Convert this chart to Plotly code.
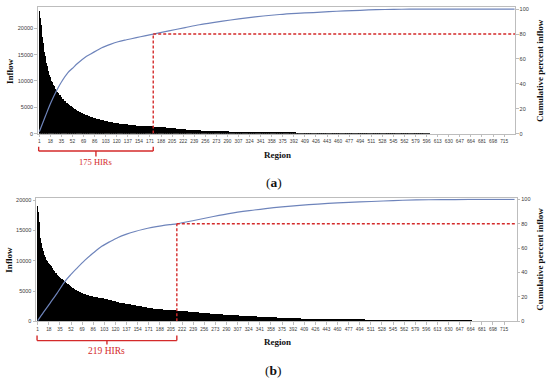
import plotly.graph_objects as go

# ---------------- data ----------------
tick_labels = list(range(1, 716, 17))
inflow_ticks = [0, 5000, 10000, 15000, 20000]
pct_ticks = [0, 20, 40, 60, 80, 100]

# (a) inflow per region, sorted, regions 1..620
inflow_a = [
23400, 22000, 20600, 19400, 18300, 17300, 16400, 15600, 14800, 14100,
13500, 12900, 12400, 11900, 11500, 11100, 10700, 10400, 10000, 9750,
9480, 9230, 9000, 8780, 8560, 8350, 8150, 7960, 7780, 7600,
7430, 7270, 7110, 6960, 6810, 6670, 6530, 6400, 6270, 6150,
6030, 5910, 5800, 5690, 5580, 5480, 5380, 5280, 5190, 5100,
5010, 4920, 4840, 4760, 4680, 4600, 4530, 4460, 4390, 4320,
4250, 4180, 4110, 4040, 3970, 3900, 3840, 3780, 3720, 3660,
3610, 3560, 3510, 3460, 3410, 3360, 3310, 3260, 3220, 3180,
3140, 3100, 3060, 3020, 2980, 2940, 2900, 2860, 2820, 2780,
2740, 2700, 2670, 2640, 2610, 2580, 2550, 2520, 2490, 2460,
2430, 2400, 2370, 2340, 2310, 2280, 2250, 2220, 2200, 2180,
2160, 2140, 2120, 2100, 2080, 2060, 2040, 2020, 2000, 1980,
1960, 1940, 1920, 1900, 1880, 1860, 1840, 1820, 1800, 1790,
1780, 1770, 1760, 1750, 1740, 1730, 1720, 1700, 1680, 1660,
1640, 1620, 1600, 1590, 1580, 1570, 1560, 1550, 1540, 1530,
1520, 1510, 1500, 1490, 1480, 1475, 1470, 1465, 1460, 1455,
1450, 1445, 1440, 1430, 1420, 1410, 1400, 1395, 1390, 1385,
1380, 1375, 1370, 1365, 1360, 1350, 1340, 1330, 1320, 1310,
1300, 1290, 1280, 1270, 1260, 1250, 1240, 1230, 1220, 1210,
1200, 1190, 1180, 1170, 1160, 1150, 1140, 1130, 1120, 1110,
1100, 1090, 1075, 1060, 1045, 1030, 1015, 1000, 985, 970,
955, 940, 925, 910, 895, 880, 870, 860, 850, 840,
830, 820, 810, 800, 790, 780, 770, 760, 750, 740,
730, 722, 714, 706, 698, 690, 682, 674, 666, 658,
650, 643, 636, 629, 622, 615, 608, 601, 594, 587,
580, 574, 568, 562, 556, 550, 544, 538, 532, 526,
520, 515, 510, 505, 500, 496, 492, 488, 484, 480,
476, 472, 468, 464, 460, 457, 454, 450, 447, 444,
440, 437, 434, 430, 427, 424, 420, 417, 414, 410,
407, 404, 400, 397, 394, 390, 387, 384, 380, 377,
374, 370, 367, 364, 360, 357, 354, 350, 347, 344,
340, 337, 334, 330, 327, 324, 321, 318, 315, 312,
309, 306, 303, 300, 297, 294, 291, 288, 285, 282,
279, 276, 273, 270, 267, 264, 261, 258, 255, 252,
249, 246, 243, 240, 237, 234, 231, 228, 225, 222,
219, 216, 213, 210, 207, 204, 202, 200, 198, 196,
194, 192, 190, 188, 186, 184, 182, 180, 178, 176,
174, 172, 170, 168, 166, 164, 161, 158, 155, 152,
150, 148, 146, 144, 142, 140, 138, 136, 134, 132,
130, 128, 126, 124, 122, 120, 118, 116, 114, 112,
110, 108, 106, 104, 102, 100, 99, 98, 97, 96,
95, 94, 93, 92, 91, 90, 89, 88, 87, 86,
85, 84, 83, 82, 81, 80, 80, 79, 79, 78,
78, 77, 77, 76, 76, 75, 75, 74, 74, 73,
73, 72, 72, 71, 71, 70, 70, 69, 69, 68,
68, 67, 67, 66, 66, 65, 65, 64, 64, 63,
63, 62, 62, 61, 61, 60, 60, 59, 59, 58,
58, 57, 57, 56, 56, 55, 55, 54, 54, 53,
53, 52, 52, 51, 51, 50, 50, 50, 49, 49,
49, 48, 48, 48, 47, 47, 47, 46, 46, 46,
45, 45, 45, 44, 44, 44, 43, 43, 43, 42,
42, 42, 41, 41, 41, 40, 40, 40, 39, 39,
39, 38, 38, 38, 37, 37, 37, 36, 36, 36,
35, 35, 35, 34, 34, 34, 33, 33, 33, 32,
32, 32, 31, 31, 31, 30, 30, 30, 29, 29,
29, 28, 28, 28, 27, 27, 27, 26, 26, 26,
25, 25, 25, 24, 24, 24, 23, 23, 23, 22,
22, 22, 21, 21, 21, 20, 20, 20, 19, 19,
19, 18, 18, 18, 17, 17, 17, 16, 16, 16,
15, 15, 15, 14, 14, 14, 13, 13, 13, 12,
]

# (b) inflow per region, sorted, regions 1..664
inflow_b = [
19000, 17900, 16300, 14600, 13600, 12800, 12400, 12000, 11600, 11200,
10900, 10600, 10350, 10100, 9900, 9750, 9600, 9450, 9300, 9150,
9000, 8850, 8700, 8550, 8400, 8250, 8100, 7960, 7830, 7700,
7580, 7460, 7350, 7250, 7150, 7060, 6970, 6880, 6790, 6700,
6600, 6500, 6400, 6300, 6200, 6110, 6020, 5940, 5860, 5780,
5700, 5620, 5540, 5460, 5380, 5300, 5230, 5160, 5100, 5040,
4980, 4920, 4860, 4800, 4750, 4700, 4650, 4600, 4560, 4520,
4480, 4440, 4400, 4360, 4320, 4290, 4260, 4230, 4200, 4170,
4140, 4110, 4080, 4050, 4020, 4000, 3980, 3960, 3940, 3920,
3900, 3880, 3860, 3845, 3830, 3815, 3800, 3785, 3770, 3750,
3730, 3700, 3675, 3650, 3625, 3600, 3575, 3550, 3525, 3500,
3475, 3450, 3420, 3390, 3360, 3330, 3300, 3270, 3240, 3210,
3180, 3150, 3120, 3090, 3060, 3030, 3000, 2980, 2960, 2940,
2920, 2900, 2880, 2860, 2845, 2830, 2815, 2800, 2780, 2760,
2740, 2720, 2700, 2680, 2660, 2640, 2620, 2600, 2580, 2560,
2540, 2520, 2500, 2480, 2460, 2440, 2420, 2400, 2380, 2360,
2340, 2320, 2300, 2280, 2260, 2240, 2220, 2200, 2180, 2160,
2145, 2130, 2115, 2100, 2085, 2070, 2055, 2040, 2025, 2010,
2000, 1990, 1980, 1970, 1960, 1950, 1940, 1930, 1920, 1910,
1900, 1890, 1880, 1870, 1860, 1850, 1840, 1830, 1820, 1810,
1800, 1795, 1790, 1785, 1780, 1775, 1770, 1765, 1760, 1755,
1745, 1735, 1725, 1715, 1705, 1695, 1685, 1675, 1665, 1655,
1645, 1635, 1625, 1615, 1605, 1595, 1585, 1575, 1565, 1555,
1545, 1535, 1525, 1515, 1505, 1495, 1485, 1475, 1470, 1465,
1455, 1445, 1435, 1425, 1415, 1405, 1395, 1385, 1375, 1365,
1355, 1345, 1335, 1325, 1315, 1305, 1295, 1285, 1275, 1265,
1255, 1245, 1235, 1225, 1215, 1205, 1195, 1185, 1175, 1165,
1155, 1145, 1135, 1125, 1118, 1111, 1104, 1097, 1090, 1083,
1076, 1069, 1062, 1055, 1048, 1041, 1034, 1027, 1020, 1013,
1006, 999, 992, 985, 978, 971, 964, 957, 950, 943,
936, 930, 924, 918, 912, 906, 900, 894, 888, 882,
876, 870, 864, 858, 852, 846, 840, 834, 828, 822,
816, 810, 804, 798, 792, 786, 780, 774, 768, 762,
756, 750, 744, 738, 732, 726, 720, 714, 708, 702,
696, 690, 684, 678, 672, 666, 660, 654, 648, 642,
636, 631, 626, 621, 616, 611, 606, 601, 596, 591,
586, 581, 576, 571, 566, 561, 556, 551, 546, 541,
536, 531, 526, 521, 516, 511, 506, 501, 496, 491,
486, 482, 478, 474, 470, 466, 462, 458, 454, 450,
446, 442, 438, 434, 430, 426, 422, 418, 414, 410,
406, 402, 398, 394, 390, 386, 382, 378, 374, 370,
366, 363, 360, 357, 354, 351, 348, 345, 342, 339,
336, 333, 330, 327, 324, 321, 318, 315, 312, 309,
306, 303, 300, 297, 294, 291, 288, 285, 282, 279,
276, 273, 270, 267, 264, 261, 258, 255, 252, 250,
248, 246, 244, 242, 240, 238, 236, 234, 232, 230,
228, 226, 224, 222, 220, 218, 216, 214, 212, 210,
208, 206, 204, 202, 200, 198, 196, 194, 192, 190,
188, 186, 184, 182, 180, 178, 176, 174, 172, 170,
168, 166, 164, 162, 160, 158, 156, 154, 152, 150,
148, 146, 144, 142, 140, 138, 136, 134, 132, 130,
128, 127, 126, 125, 124, 123, 122, 121, 120, 119,
118, 117, 116, 115, 114, 113, 112, 111, 110, 109,
108, 107, 106, 105, 104, 103, 102, 101, 100, 99,
98, 97, 96, 95, 94, 93, 92, 91, 90, 89,
88, 87, 86, 85, 84, 83, 82, 81, 80, 79,
78, 77, 76, 75, 74, 73, 72, 71, 70, 69,
68, 67, 66, 65, 64, 63, 62, 61, 60, 59,
58, 57, 56, 55, 54, 53, 52, 51, 50, 49,
48, 47, 46, 45, 44, 43, 42, 41, 40, 39,
38, 37, 36, 35, 34, 34, 33, 33, 32, 32,
31, 31, 30, 30, 29, 29, 28, 28, 27, 27,
26, 26, 25, 25, 24, 24, 23, 23, 22, 22,
21, 21, 20, 20, 19, 19, 18, 18, 17, 17,
16, 16, 15, 15, 14, 14, 13, 13, 12, 12,
11, 11, 10, 10, 9, 9, 8, 8, 7, 7,
6, 6, 5, 5,
]

# cumulative percent inflow
cum_regions_a = [1, 10, 18, 28, 35, 45, 52, 60, 71, 80, 90, 97, 110, 122, 135, 150, 163, 176,
                 200, 225, 247, 270, 295, 320, 345, 370, 396, 422, 446, 470, 494, 519, 545,
                 570, 600, 650, 700, 731]
cum_pct_a = [1.5, 13.5, 24, 35.0, 41.5, 49, 52.5, 56.5, 61.2, 64, 67, 69, 71.7, 73.8, 75.4,
             77.1, 78.6, 80, 82.6, 85.2, 87.5, 89.4, 91.3, 93, 94.5, 95.7, 96.6, 97.3, 98,
             98.6, 99.1, 99.6, 99.85, 100, 100, 100, 100, 100]

cum_regions_b = [1, 10, 20, 30, 43, 52, 60, 73, 86, 99, 112, 124, 137, 150, 163, 176, 190,
                 203, 214, 240, 270, 296, 325, 350, 375, 402, 430, 460, 494, 530, 560, 600,
                 640, 680, 731]
cum_pct_b = [0.5, 7.5, 15, 22.5, 33, 38.5, 43, 50, 56, 61.5, 65.5, 68.8, 71.5, 73.7, 75.5,
             77, 78.3, 79.3, 80, 82.7, 86, 88.6, 90.8, 92.5, 93.9, 95.1, 96.2, 97.1, 97.9,
             98.7, 99.3, 99.7, 99.9, 100, 100]

cutoff_pct = 80
cutoff_a = 176      # drawn position of dashed cut line
cutoff_b = 214
hir_label_a = "175 HIRs"
hir_label_b = "219 HIRs"

# ---------------- styling ----------------
RED = "#d42a2a"
BLUE = "#6e84bb"
AXC = "#bdbdbd"
TICKC = "#3a3a3a"
SERIF = "Liberation Serif"
SANS = "Liberation Sans"

W, H = 550, 387

def px(xp):
    return xp / W

def py(yp):
    return 1 - yp / H

dom_a_x = [px(37.7), px(515)]
dom_a_y = [py(133.3), py(5)]
dom_b_x = [px(36), px(516.7)]
dom_b_y = [py(323.5), py(199)]

fig = go.Figure()

regions_a = list(range(1, len(inflow_a) + 1))
regions_b = list(range(1, len(inflow_b) + 1))

fig.add_trace(go.Bar(x=regions_a, y=inflow_a, xaxis="x", yaxis="y",
                     marker=dict(color="#000000", line=dict(width=0)), width=0.8,
                     showlegend=False, hoverinfo="skip"))
fig.add_trace(go.Scatter(x=cum_regions_a, y=cum_pct_a, xaxis="x", yaxis="y2", mode="lines",
                         line=dict(color=BLUE, width=1.2, shape="spline", smoothing=0.8),
                         showlegend=False, hoverinfo="skip"))
fig.add_trace(go.Bar(x=regions_b, y=inflow_b, xaxis="x2", yaxis="y3",
                     marker=dict(color="#000000", line=dict(width=0)), width=0.8,
                     showlegend=False, hoverinfo="skip"))
fig.add_trace(go.Scatter(x=cum_regions_b, y=cum_pct_b, xaxis="x2", yaxis="y4", mode="lines",
                         line=dict(color=BLUE, width=1.2, shape="spline", smoothing=0.8),
                         showlegend=False, hoverinfo="skip"))

xcommon = dict(tickmode="array", tickvals=tick_labels, ticktext=[str(t) for t in tick_labels],
               showline=True, linecolor=AXC, linewidth=1, mirror=True, ticks="outside",
               ticklen=2.5, tickcolor=AXC, tickwidth=0.8, showgrid=False, zeroline=False,
               tickfont=dict(family=SANS, size=4.8, color=TICKC), tickangle=0)
yleft = dict(showline=True, linecolor=AXC, linewidth=1, ticks="outside", ticklen=2.5,
             tickcolor=AXC, tickwidth=0.8, showgrid=False, zeroline=False,
             tickfont=dict(family=SANS, size=5.5, color=TICKC), tickmode="array",
             tickvals=inflow_ticks, ticktext=[str(v) for v in inflow_ticks])
yright = dict(showline=True, linecolor=AXC, linewidth=1, ticks="outside", ticklen=2.5,
              tickcolor=AXC, tickwidth=0.8, showgrid=False, zeroline=False, side="right",
              tickfont=dict(family=SANS, size=5.5, color=TICKC), tickmode="array",
              tickvals=pct_ticks, ticktext=[str(v) for v in pct_ticks])

fig.update_layout(
    width=W, height=H, margin=dict(l=0, r=0, t=0, b=0),
    paper_bgcolor="white", plot_bgcolor="white", bargap=0,
    xaxis=dict(domain=dom_a_x, range=[-1.46, 731.7], anchor="y", **xcommon),
    yaxis=dict(domain=dom_a_y, range=[0, 24070], anchor="x", **yleft),
    yaxis2=dict(domain=dom_a_y, range=[0, 101.8], anchor="x", overlaying="y", **yright),
    xaxis2=dict(domain=dom_b_x, range=[-1.6, 734.3], anchor="y3", **xcommon),
    yaxis3=dict(domain=dom_b_y, range=[0, 20277], anchor="x2", **yleft),
    yaxis4=dict(domain=dom_b_y, range=[0, 100.8], anchor="x2", overlaying="y3", **yright),
)

shapes = []
for xr, yr, ydom, cut, xmax, yb in [("x", "y2", "y domain", cutoff_a, 731.7, (-0.104, -0.138, -0.181)),
                                   ("x2", "y4", "y3 domain", cutoff_b, 734.3, (-0.116, -0.157, -0.188))]:
    dash = "3px,2px"
    shapes.append(dict(type="line", xref=xr, yref=yr, x0=cut, x1=cut, y0=0, y1=cutoff_pct,
                       line=dict(color=RED, width=1.4, dash=dash)))
    shapes.append(dict(type="line", xref=xr, yref=yr, x0=cut, x1=xmax, y0=cutoff_pct, y1=cutoff_pct,
                       line=dict(color=RED, width=1.4, dash=dash)))
    top_y, mid_y, low_y = yb
    shapes.append(dict(type="line", xref=xr, yref=ydom, x0=0, x1=cut, y0=mid_y, y1=mid_y,
                       line=dict(color=RED, width=1.4)))
    shapes.append(dict(type="line", xref=xr, yref=ydom, x0=0, x1=0, y0=top_y, y1=mid_y,
                       line=dict(color=RED, width=1.4)))
    shapes.append(dict(type="line", xref=xr, yref=ydom, x0=cut, x1=cut, y0=top_y, y1=mid_y,
                       line=dict(color=RED, width=1.4)))
    shapes.append(dict(type="line", xref=xr, yref=ydom, x0=cut / 2, x1=cut / 2, y0=mid_y, y1=low_y,
                       line=dict(color=RED, width=1.4)))
fig.update_layout(shapes=shapes)

ann = []
def title(text, x, y, size, angle=0, family=SERIF, color="#111111"):
    ann.append(dict(text=text, x=x, y=y, xref="paper", yref="paper", showarrow=False,
                    textangle=angle, xanchor="center", yanchor="middle",
                    font=dict(family=family, size=size, color=color)))

title("<b>Inflow</b>", px(10), py(70), 9, -90)
title("<b>Cumulative percent inflow</b>", px(540), py(70), 9, -90)
title("<b>Region</b>", px(277), py(155), 9)
title("(<b>a</b>)", px(274), py(182.5), 13.5)
title("<b>Inflow</b>", px(9), py(261), 9, -90)
title("<b>Cumulative percent inflow</b>", px(540), py(261), 9, -90)
title("<b>Region</b>", px(277), py(344), 9)
title("(<b>b</b>)", px(273), py(373), 13.5)

ann.append(dict(text=hir_label_a, x=cutoff_a / 2, y=-0.228, xref="x", yref="y domain",
                xanchor="center", yanchor="middle", showarrow=False,
                font=dict(family=SERIF, size=8.5, color=RED)))
ann.append(dict(text=hir_label_b, x=cutoff_b / 2, y=-0.241, xref="x2", yref="y3 domain",
                xanchor="center", yanchor="middle", showarrow=False,
                font=dict(family=SERIF, size=9.5, color=RED)))
fig.update_layout(annotations=ann)

fig.write_html("out.html", config={"displayModeBar": False},
               post_script="document.body.style.margin='0';")
